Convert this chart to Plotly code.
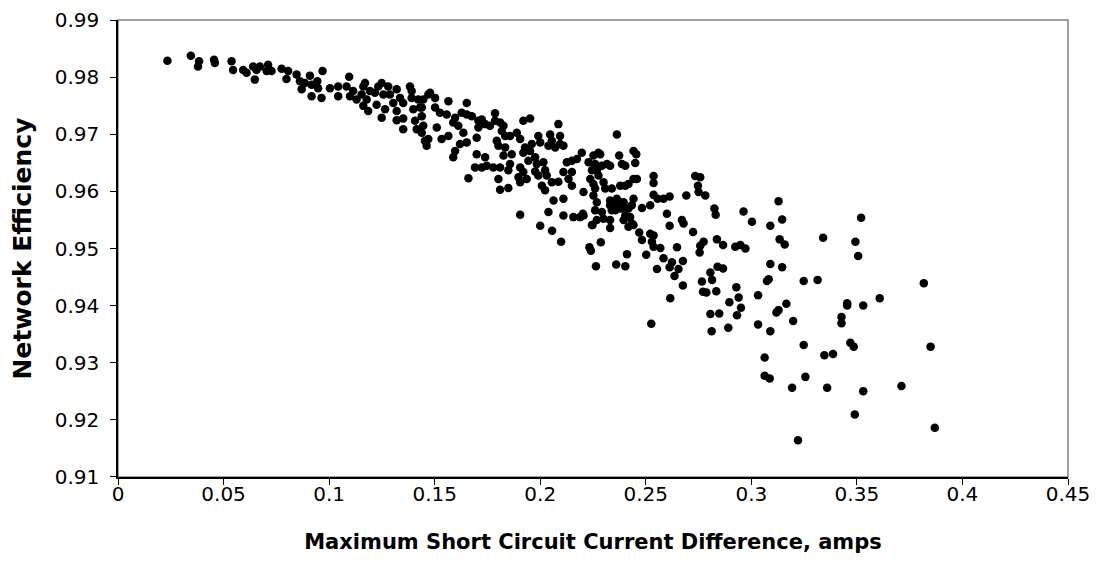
import plotly.graph_objects as go

# Maximum short circuit current difference (amps)
current_diff = [
    0.0234, 0.0345, 0.0384, 0.0379, 0.0455, 0.0459,
    0.0538, 0.0545, 0.0593, 0.0609, 0.0640, 0.0656, 0.0648, 0.0672, 0.0711, 0.0704,
    0.0727, 0.0775, 0.0806, 0.0798, 0.0846, 0.0862, 0.0870, 0.0885, 0.0909, 0.0917,
    0.0917, 0.0944, 0.0948, 0.0969, 0.0964, 0.1004, 0.1043, 0.1043, 0.1083, 0.1095,
    0.1099, 0.1114, 0.1130, 0.1154, 0.1162, 0.1170, 0.1178, 0.1162, 0.1185, 0.1193,
    0.1217, 0.1225, 0.1233, 0.1249, 0.1257, 0.1265, 0.1249, 0.1280, 0.1288, 0.1304,
    0.1320, 0.1320, 0.1320, 0.1336, 0.1351, 0.1351, 0.1351, 0.1383, 0.1391, 0.1391,
    0.1399, 0.1407, 0.1415, 0.1422, 0.1431, 0.1439, 0.1439, 0.1462, 0.1470, 0.1470,
    0.1478, 0.1502, 0.1446, 0.1439, 0.1446, 0.1454, 0.1502, 0.1525, 0.1565, 0.1510,
    0.1533, 0.1565, 0.1557, 0.1597, 0.1588, 0.1612, 0.1652, 0.1652, 0.1628, 0.1676,
    0.1636, 0.1652, 0.1620, 0.1597, 0.1588, 0.1707, 0.1707, 0.1699, 0.1723, 0.1739,
    0.1762, 0.1786, 0.1786, 0.1810, 0.1826, 0.1818, 0.1834, 0.1857, 0.1794, 0.1802,
    0.1834, 0.1826, 0.1865, 0.1739, 0.1699, 0.1691, 0.1723, 0.1747, 0.1778, 0.1810,
    0.1857, 0.1849, 0.1802, 0.1810, 0.1849, 0.1660, 0.1889, 0.1905, 0.1920, 0.1952,
    0.1928, 0.1920, 0.1952, 0.1944, 0.1905, 0.1920, 0.1897, 0.1905, 0.1936, 0.1991,
    0.2000, 0.1960, 0.1976, 0.1984, 0.1976, 0.1991, 0.2015, 0.2023, 0.2031, 0.2008,
    0.2023, 0.2047, 0.2055, 0.2039, 0.2071, 0.2094, 0.2086, 0.2094, 0.2110, 0.2055,
    0.2086, 0.2063, 0.2110, 0.2134, 0.2150, 0.2126, 0.2150, 0.2174, 0.2110, 0.2150,
    0.2197, 0.2205, 0.2229, 0.2252, 0.2276, 0.2284, 0.2260, 0.2245, 0.2268, 0.2276,
    0.2292, 0.2316, 0.2331, 0.2237, 0.2252, 0.2260, 0.2300, 0.2308, 0.2252, 0.2268,
    0.2339, 0.2331, 0.2363, 0.2347, 0.2339, 0.2260, 0.2205, 0.2157, 0.2110, 0.2039,
    0.1905,
    0.2331, 0.2363, 0.2379, 0.2355, 0.2371, 0.2300, 0.2292, 0.2331, 0.2268, 0.2245,
    0.2189, 0.2202,
    0.2374, 0.2387, 0.2403, 0.2442, 0.2455, 0.2450, 0.2442, 0.2458, 0.2418, 0.2403,
    0.2379, 0.2442, 0.2434, 0.2418, 0.2395, 0.2387, 0.2403, 0.2426, 0.2434, 0.2442,
    0.2418, 0.2395, 0.2482, 0.2521, 0.2537, 0.2537, 0.2537, 0.2556, 0.2584, 0.2613,
    0.2600, 0.2613, 0.2469, 0.2482, 0.2521, 0.2537, 0.2529, 0.2537, 0.2569, 0.2648,
    0.2671, 0.2679, 0.2692, 0.2724, 0.2734, 0.2758, 0.2747, 0.2750, 0.2782, 0.2825,
    0.2831, 0.2774, 0.2758, 0.2837, 0.2866, 0.2963, 0.3003, 0.2924, 0.2948, 0.2972,
    0.3090, 0.3129, 0.3146, 0.3134, 0.3158,
    0.2287, 0.2233, 0.2248, 0.2331,
    0.2240, 0.2264, 0.2360, 0.2403, 0.2411, 0.2502, 0.2553, 0.2584, 0.2613, 0.2624,
    0.2655, 0.2676, 0.2636, 0.2676, 0.2616, 0.2526, 0.2755, 0.2806, 0.2840, 0.2866,
    0.2766, 0.2814, 0.2771, 0.2787, 0.2834, 0.2929, 0.2940, 0.2896, 0.2951, 0.2806,
    0.2848, 0.2932, 0.2812, 0.2891, 0.3090, 0.3146, 0.3082, 0.3074, 0.3248, 0.3032,
    0.3166, 0.3129, 0.3119, 0.3198, 0.3032, 0.3090, 0.3248, 0.3063, 0.3063, 0.3087,
    0.3256, 0.3193,
    0.3520, 0.3340, 0.3493, 0.3506, 0.3314, 0.3817, 0.3608, 0.3454, 0.3454, 0.3530,
    0.3427,
    0.3427, 0.3469, 0.3485, 0.3346, 0.3387, 0.3849, 0.3359, 0.3530, 0.3711, 0.3490,
    0.3869, 0.3221,
    0.2000, 0.2056, 0.2099,
]

# Network efficiency
efficiency = [
    0.9829, 0.9838, 0.9828, 0.9819, 0.9831, 0.9825,
    0.9828, 0.9813, 0.9813, 0.9808, 0.9819, 0.9813, 0.9796, 0.9819, 0.9822, 0.9811,
    0.9811, 0.9815, 0.9811, 0.9797, 0.9805, 0.9793, 0.9779, 0.9790, 0.9803, 0.9787,
    0.9767, 0.9793, 0.9781, 0.9811, 0.9764, 0.9781, 0.9784, 0.9767, 0.9784, 0.9801,
    0.9767, 0.9776, 0.9761, 0.9770, 0.9784, 0.9790, 0.9761, 0.9750, 0.9741, 0.9776,
    0.9773, 0.9752, 0.9784, 0.9790, 0.9770, 0.9744, 0.9729, 0.9784, 0.9770, 0.9755,
    0.9779, 0.9741, 0.9725, 0.9764, 0.9755, 0.9728, 0.9709, 0.9784, 0.9776, 0.9764,
    0.9744, 0.9724, 0.9709, 0.9761, 0.9747, 0.9732, 0.9703, 0.9680, 0.9770, 0.9692,
    0.9773, 0.9764, 0.9761, 0.9747, 0.9715, 0.9689, 0.9747, 0.9738, 0.9758, 0.9712,
    0.9692, 0.9697, 0.9735, 0.9729, 0.9721, 0.9715, 0.9755, 0.9735, 0.9738, 0.9732,
    0.9703, 0.9686, 0.9683, 0.9671, 0.9660, 0.9724, 0.9712, 0.9694, 0.9726, 0.9718,
    0.9715, 0.9737, 0.9724, 0.9721, 0.9715, 0.9706, 0.9697, 0.9697, 0.9689, 0.9680,
    0.9677, 0.9663, 0.9665, 0.9660, 0.9665, 0.9642, 0.9642, 0.9645, 0.9642, 0.9642,
    0.9648, 0.9637, 0.9622, 0.9603, 0.9606, 0.9623, 0.9703, 0.9692, 0.9724, 0.9728,
    0.9677, 0.9668, 0.9671, 0.9654, 0.9642, 0.9634, 0.9625, 0.9616, 0.9622, 0.9697,
    0.9686, 0.9683, 0.9660, 0.9648, 0.9635, 0.9628, 0.9651, 0.9637, 0.9628, 0.9610,
    0.9602, 0.9700, 0.9689, 0.9680, 0.9677, 0.9697, 0.9718, 0.9683, 0.9680, 0.9616,
    0.9617, 0.9584, 0.9587, 0.9622, 0.9610, 0.9651, 0.9654, 0.9657, 0.9634, 0.9634,
    0.9668, 0.9599, 0.9651, 0.9663, 0.9668, 0.9665, 0.9648, 0.9637, 0.9637, 0.9628,
    0.9645, 0.9648, 0.9645, 0.9622, 0.9613, 0.9605, 0.9616, 0.9605, 0.9593, 0.9581,
    0.9605, 0.9584, 0.9700, 0.9576, 0.9567, 0.9567, 0.9558, 0.9555, 0.9558, 0.9564,
    0.9559,
    0.9576, 0.9587, 0.9581, 0.9567, 0.9570, 0.9552, 0.9564, 0.9550, 0.9550, 0.9541,
    0.9555, 0.9561,
    0.9663, 0.9648, 0.9645, 0.9671, 0.9665, 0.9650, 0.9622, 0.9622, 0.9613, 0.9610,
    0.9610, 0.9587, 0.9576, 0.9570, 0.9581, 0.9570, 0.9558, 0.9555, 0.9544, 0.9541,
    0.9538, 0.9550, 0.9571, 0.9576, 0.9627, 0.9615, 0.9594, 0.9587, 0.9587, 0.9591,
    0.9561, 0.9540, 0.9528, 0.9515, 0.9526, 0.9523, 0.9512, 0.9503, 0.9501, 0.9502,
    0.9550, 0.9544, 0.9593, 0.9529, 0.9627, 0.9625, 0.9610, 0.9599, 0.9593, 0.9570,
    0.9559, 0.9512, 0.9505, 0.9516, 0.9506, 0.9565, 0.9547, 0.9503, 0.9506, 0.9500,
    0.9540, 0.9583, 0.9551, 0.9516, 0.9507,
    0.9511, 0.9502, 0.9541, 0.9536,
    0.9496, 0.9469, 0.9472, 0.9469, 0.9490, 0.9489, 0.9464, 0.9483, 0.9467, 0.9476,
    0.9464, 0.9478, 0.9452, 0.9435, 0.9413, 0.9368, 0.9493, 0.9458, 0.9468, 0.9465,
    0.9442, 0.9445, 0.9424, 0.9423, 0.9425, 0.9432, 0.9414, 0.9406, 0.9396, 0.9385,
    0.9386, 0.9383, 0.9355, 0.9361, 0.9473, 0.9467, 0.9446, 0.9443, 0.9443, 0.9418,
    0.9403, 0.9392, 0.9388, 0.9373, 0.9367, 0.9355, 0.9331, 0.9309, 0.9277, 0.9272,
    0.9275, 0.9256,
    0.9554, 0.9519, 0.9512, 0.9487, 0.9445, 0.9439, 0.9413, 0.9404, 0.9400, 0.9400,
    0.9380,
    0.9369, 0.9335, 0.9328, 0.9313, 0.9315, 0.9328, 0.9256, 0.9250, 0.9259, 0.9209,
    0.9186, 0.9164,
    0.9540, 0.9531, 0.9512,
]

x_ticks = [0, 0.05, 0.1, 0.15, 0.2, 0.25, 0.3, 0.35, 0.4, 0.45]
y_ticks = [0.91, 0.92, 0.93, 0.94, 0.95, 0.96, 0.97, 0.98, 0.99]

FONT = "DejaVu Sans, Liberation Sans, Arial, sans-serif"

fig = go.Figure()
fig.add_trace(go.Scatter(
    x=current_diff, y=efficiency, mode="markers",
    marker=dict(color="black", size=8.5, line=dict(width=0)),
    showlegend=False, hoverinfo="x+y",
))

fig.add_shape(type="rect", xref="x domain", yref="y domain",
              x0=0, x1=1, y0=0, y1=1,
              line=dict(color="#808080", width=1.5), layer="below")

# page body adds an 8px offset; figure sized so no scrollbars appear
fig.update_layout(
    width=1089, height=557,
    margin=dict(l=110, r=29, t=12, b=88, autoexpand=False),
    paper_bgcolor="white", plot_bgcolor="white",
    font=dict(family=FONT, size=20, color="black"),
    showlegend=False,
)
fig.update_xaxes(
    range=[0, 0.45], tickvals=x_ticks,
    ticktext=[("%g" % v) for v in x_ticks],
    showgrid=False, zeroline=False, automargin=False,
    showline=True, linecolor="black", linewidth=1.5,
    ticks="outside", ticklen=6, tickcolor="black", tickwidth=1.2,
    tickfont=dict(family=FONT, size=20),
    ticklabelstandoff=-8, ticklabeloverflow="allow",
    title=dict(text="<b>Maximum Short Circuit Current Difference, amps</b>",
               font=dict(family=FONT, size=21), standoff=30),
)
fig.update_yaxes(
    range=[0.90995, 0.99005], tickvals=y_ticks,
    ticktext=[("%.2f" % v) for v in y_ticks],
    showgrid=False, zeroline=False, automargin=False,
    showline=True, linecolor="black", linewidth=1.5,
    ticks="outside", ticklen=6, tickcolor="black", tickwidth=1.2,
    tickfont=dict(family=FONT, size=20),
    ticklabelstandoff=7, ticklabeloverflow="allow",
    title=dict(text="<b>Network Efficiency</b>",
               font=dict(family=FONT, size=25), standoff=16),
)

fig.write_html("out.html")
